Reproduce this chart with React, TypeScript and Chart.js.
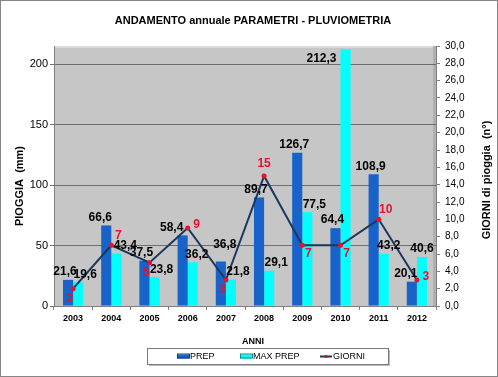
import React, { useEffect, useRef } from "react";
import { Chart, registerables } from "chart.js";

Chart.register(...registerables);

const YEARS = ["2003", "2004", "2005", "2006", "2007", "2008", "2009", "2010", "2011", "2012"];
const PREP = [21.6, 66.6, 37.5, 58.4, 36.8, 89.7, 126.7, 64.4, 108.9, 20.1];
const MAX_PREP = [19.6, 43.4, 23.8, 36.2, 21.8, 29.1, 77.5, 212.3, 43.2, 40.6];
const GIORNI = [2, 7, 5, 9, 3, 15, 7, 7, 10, 3];
const LEFT_TICKS = [0, 50, 100, 150, 200];

const TITLE = "ANDAMENTO annuale PARAMETRI - PLUVIOMETRIA";
const Y_TITLE = "PIOGGIA  (mm)";
const Y1_TITLE = "GIORNI di pioggia  (n°)";
const X_TITLE = "ANNI";

// label placement (style settings, not data)
const GIORNI_LABEL_POS = ["b", "tr", "b", "r", "b", "t", "br", "br", "tr", "r"];
const PREP_LABEL_NUDGE_X = [0, -3, 0, -8, 7, 0, 0, 0, 0, -3];
const PREP_LABEL_NUDGE_Y = [0, 0, 0, 0, -9, 0, 0, 0, 0, 0];
const MAX_LABEL_NUDGE_X = [0, 2, 0, -3, 0, 0, 0, 0, -2, -7];

const FONT = '"Liberation Sans", Arial, sans-serif';
const fmt = (v: number) => v.toFixed(1).replace(".", ",");

const COL_PREP = "#1763C9";
const COL_MAX = "#00FFFF";
const COL_LINE = "#1B365D";
const COL_RED = "#E8112D";

const decoPlugin = {
  id: "deco",
  beforeDraw(chart: any) {
    const { ctx, chartArea: a, width, height } = chart;
    ctx.save();
    ctx.fillStyle = "#ffffff";
    ctx.fillRect(0, 0, width, height);
    ctx.fillStyle = "#C6C6C6";
    ctx.fillRect(a.left, a.top, a.right - a.left, a.bottom - a.top);
    ctx.fillStyle = "#B0B0B0";
    ctx.fillRect(a.right - 3, a.top, 3, a.bottom - a.top);
    ctx.fillStyle = "#DADADA";
    ctx.fillRect(a.left, a.top, a.right - a.left - 3, 2);
    ctx.restore();
  },
  afterDatasetsDraw(chart: any) {
    const { ctx, chartArea: a } = chart;
    ctx.save();
    ctx.textBaseline = "middle";
    ctx.font = `bold 12px ${FONT}`;
    ctx.fillStyle = "#000000";
    ctx.textAlign = "center";
    const mPrep = chart.getDatasetMeta(1);
    mPrep.data.forEach((el: any, i: number) => {
      ctx.fillText(fmt(PREP[i]), el.x - 3 + PREP_LABEL_NUDGE_X[i], el.y - 8 + PREP_LABEL_NUDGE_Y[i]);
    });
    const mMax = chart.getDatasetMeta(2);
    mMax.data.forEach((el: any, i: number) => {
      if (el.y - 8 < a.top + 6) {
        ctx.textAlign = "right";
        ctx.fillText(fmt(MAX_PREP[i]), el.x - el.width / 2 - 4, el.y + 9);
        ctx.textAlign = "center";
      } else {
        ctx.fillText(fmt(MAX_PREP[i]), el.x + 7 + MAX_LABEL_NUDGE_X[i], el.y - 8);
      }
    });
    ctx.font = `bold 12px ${FONT}`;
    ctx.fillStyle = COL_RED;
    const mLine = chart.getDatasetMeta(0);
    mLine.data.forEach((el: any, i: number) => {
      const p = GIORNI_LABEL_POS[i];
      let dx = 0, dy = 0;
      if (p === "b") { dx = -3; dy = 10; }
      else if (p === "t") { dx = 0; dy = -12; }
      else if (p === "r") { dx = 9; dy = -3; }
      else if (p === "tr") { dx = 7; dy = -10; }
      else if (p === "br") { dx = 6; dy = 8; }
      ctx.textAlign = "center";
      ctx.fillText(String(GIORNI[i]), el.x + dx, el.y + dy);
    });
    ctx.restore();
  },
  afterDraw(chart: any) {
    const { ctx, width, height } = chart;
    ctx.save();
    ctx.strokeStyle = "#868686";
    ctx.lineWidth = 1;
    ctx.strokeRect(0.5, 0.5, width - 1, height - 1);

    ctx.fillStyle = "#000000";
    ctx.textAlign = "center";
    ctx.textBaseline = "middle";
    ctx.font = `bold 11px ${FONT}`;
    ctx.fillText(TITLE, 253, 21);

    ctx.save();
    ctx.translate(20, 186);
    ctx.rotate(-Math.PI / 2);
    ctx.font = `bold 11px ${FONT}`;
    ctx.fillText(Y_TITLE, 0, 0);
    ctx.restore();
    ctx.save();
    ctx.translate(487, 180);
    ctx.rotate(-Math.PI / 2);
    ctx.font = `bold 11px ${FONT}`;
    ctx.fillText(Y1_TITLE, 0, 0);
    ctx.restore();

    ctx.font = `bold 9px ${FONT}`;
    ctx.fillText(X_TITLE, 253, 342);

    const lx = 147, ly = 348, lw = 241, lh = 16;
    ctx.fillStyle = "#BDBDBD";
    ctx.fillRect(lx + 2, ly + 2, lw, lh);
    ctx.fillStyle = "#ffffff";
    ctx.fillRect(lx, ly, lw, lh);
    ctx.strokeStyle = "#7a7a7a";
    ctx.strokeRect(lx + 0.5, ly + 0.5, lw, lh);
    const cy = ly + 8.5;
    ctx.font = `9px ${FONT}`;
    ctx.textAlign = "left";
    ctx.fillStyle = COL_PREP;
    ctx.fillRect(177, cy - 2, 12, 4);
    ctx.strokeStyle = "#0B3A80";
    ctx.strokeRect(177.5, cy - 2.5, 12, 4);
    ctx.fillStyle = "#000";
    ctx.fillText("PREP", 190, cy);
    ctx.fillStyle = COL_MAX;
    ctx.fillRect(240, cy - 2, 12, 4);
    ctx.strokeStyle = "#008a8a";
    ctx.strokeRect(240.5, cy - 2.5, 12, 4);
    ctx.fillStyle = "#000";
    ctx.fillText("MAX PREP", 253, cy);
    ctx.strokeStyle = COL_LINE;
    ctx.lineWidth = 2;
    ctx.beginPath();
    ctx.moveTo(320, cy);
    ctx.lineTo(332, cy);
    ctx.stroke();
    ctx.fillStyle = COL_RED;
    ctx.fillRect(324.5, cy - 1.5, 3, 3);
    ctx.fillStyle = "#000";
    ctx.fillText("GIORNI", 333, cy);
    ctx.restore();
  },
};

export default function App() {
  const ref = useRef<HTMLCanvasElement | null>(null);
  useEffect(() => {
    document.body.style.margin = "0";
    const canvas = ref.current;
    if (!canvas) return;
    const chart = new Chart(canvas, {
      type: "bar",
      data: {
        labels: YEARS,
        datasets: [
          {
            type: "line",
            label: "GIORNI",
            data: GIORNI,
            yAxisID: "y1",
            borderColor: COL_LINE,
            borderWidth: 2,
            pointStyle: "circle",
            pointRadius: 2.5,
            pointBackgroundColor: COL_RED,
            pointBorderColor: COL_RED,
            pointBorderWidth: 0,
            tension: 0,
            order: 0,
          } as any,
          {
            type: "bar",
            label: "PREP",
            data: PREP,
            yAxisID: "y",
            backgroundColor: COL_PREP,
            borderWidth: 0,
            categoryPercentage: 0.53,
            barPercentage: 1,
            order: 1,
          },
          {
            type: "bar",
            label: "MAX PREP",
            data: MAX_PREP,
            yAxisID: "y",
            backgroundColor: COL_MAX,
            borderWidth: 0,
            categoryPercentage: 0.53,
            barPercentage: 1,
            order: 2,
          },
        ],
      },
      options: {
        responsive: false,
        animation: false,
        devicePixelRatio: 1,
        layout: { padding: { top: 46, bottom: 51, left: 0, right: 0 } },
        plugins: { legend: { display: false }, title: { display: false }, tooltip: { enabled: false } },
        scales: {
          x: {
            afterFit: (s: any) => { s.height = 20; },
            grid: { display: true, drawOnChartArea: false, tickLength: 4, color: "#808080", offset: true },
            border: { display: true, color: "#808080" },
            ticks: { font: { family: FONT, size: 9, weight: "bold" }, color: "#000", padding: 3, maxRotation: 0 },
          },
          y: {
            position: "left",
            min: 0,
            max: 215,
            afterFit: (s: any) => { s.width = 54; },
            afterBuildTicks: (s: any) => { s.ticks = LEFT_TICKS.map((v) => ({ value: v })); },
            grid: { color: "#6E6E6E", tickLength: 4, lineWidth: 1 },
            border: { display: true, color: "#808080" },
            ticks: { font: { family: FONT, size: 11 }, color: "#000", padding: 2 },
          },
          y1: {
            position: "right",
            min: 0,
            max: 30,
            afterFit: (s: any) => { s.width = 62; },
            grid: { drawOnChartArea: false, tickLength: 4, color: "#808080" },
            border: { display: true, color: "#808080" },
            ticks: {
              stepSize: 2,
              font: { family: FONT, size: 10 },
              color: "#000",
              padding: 5,
              callback: (v: any) => fmt(Number(v)),
            },
          },
        },
      },
      plugins: [decoPlugin],
    } as any);
    return () => chart.destroy();
  }, []);
  return <canvas ref={ref} width={498} height={377} style={{ display: "block" }} />;
}
